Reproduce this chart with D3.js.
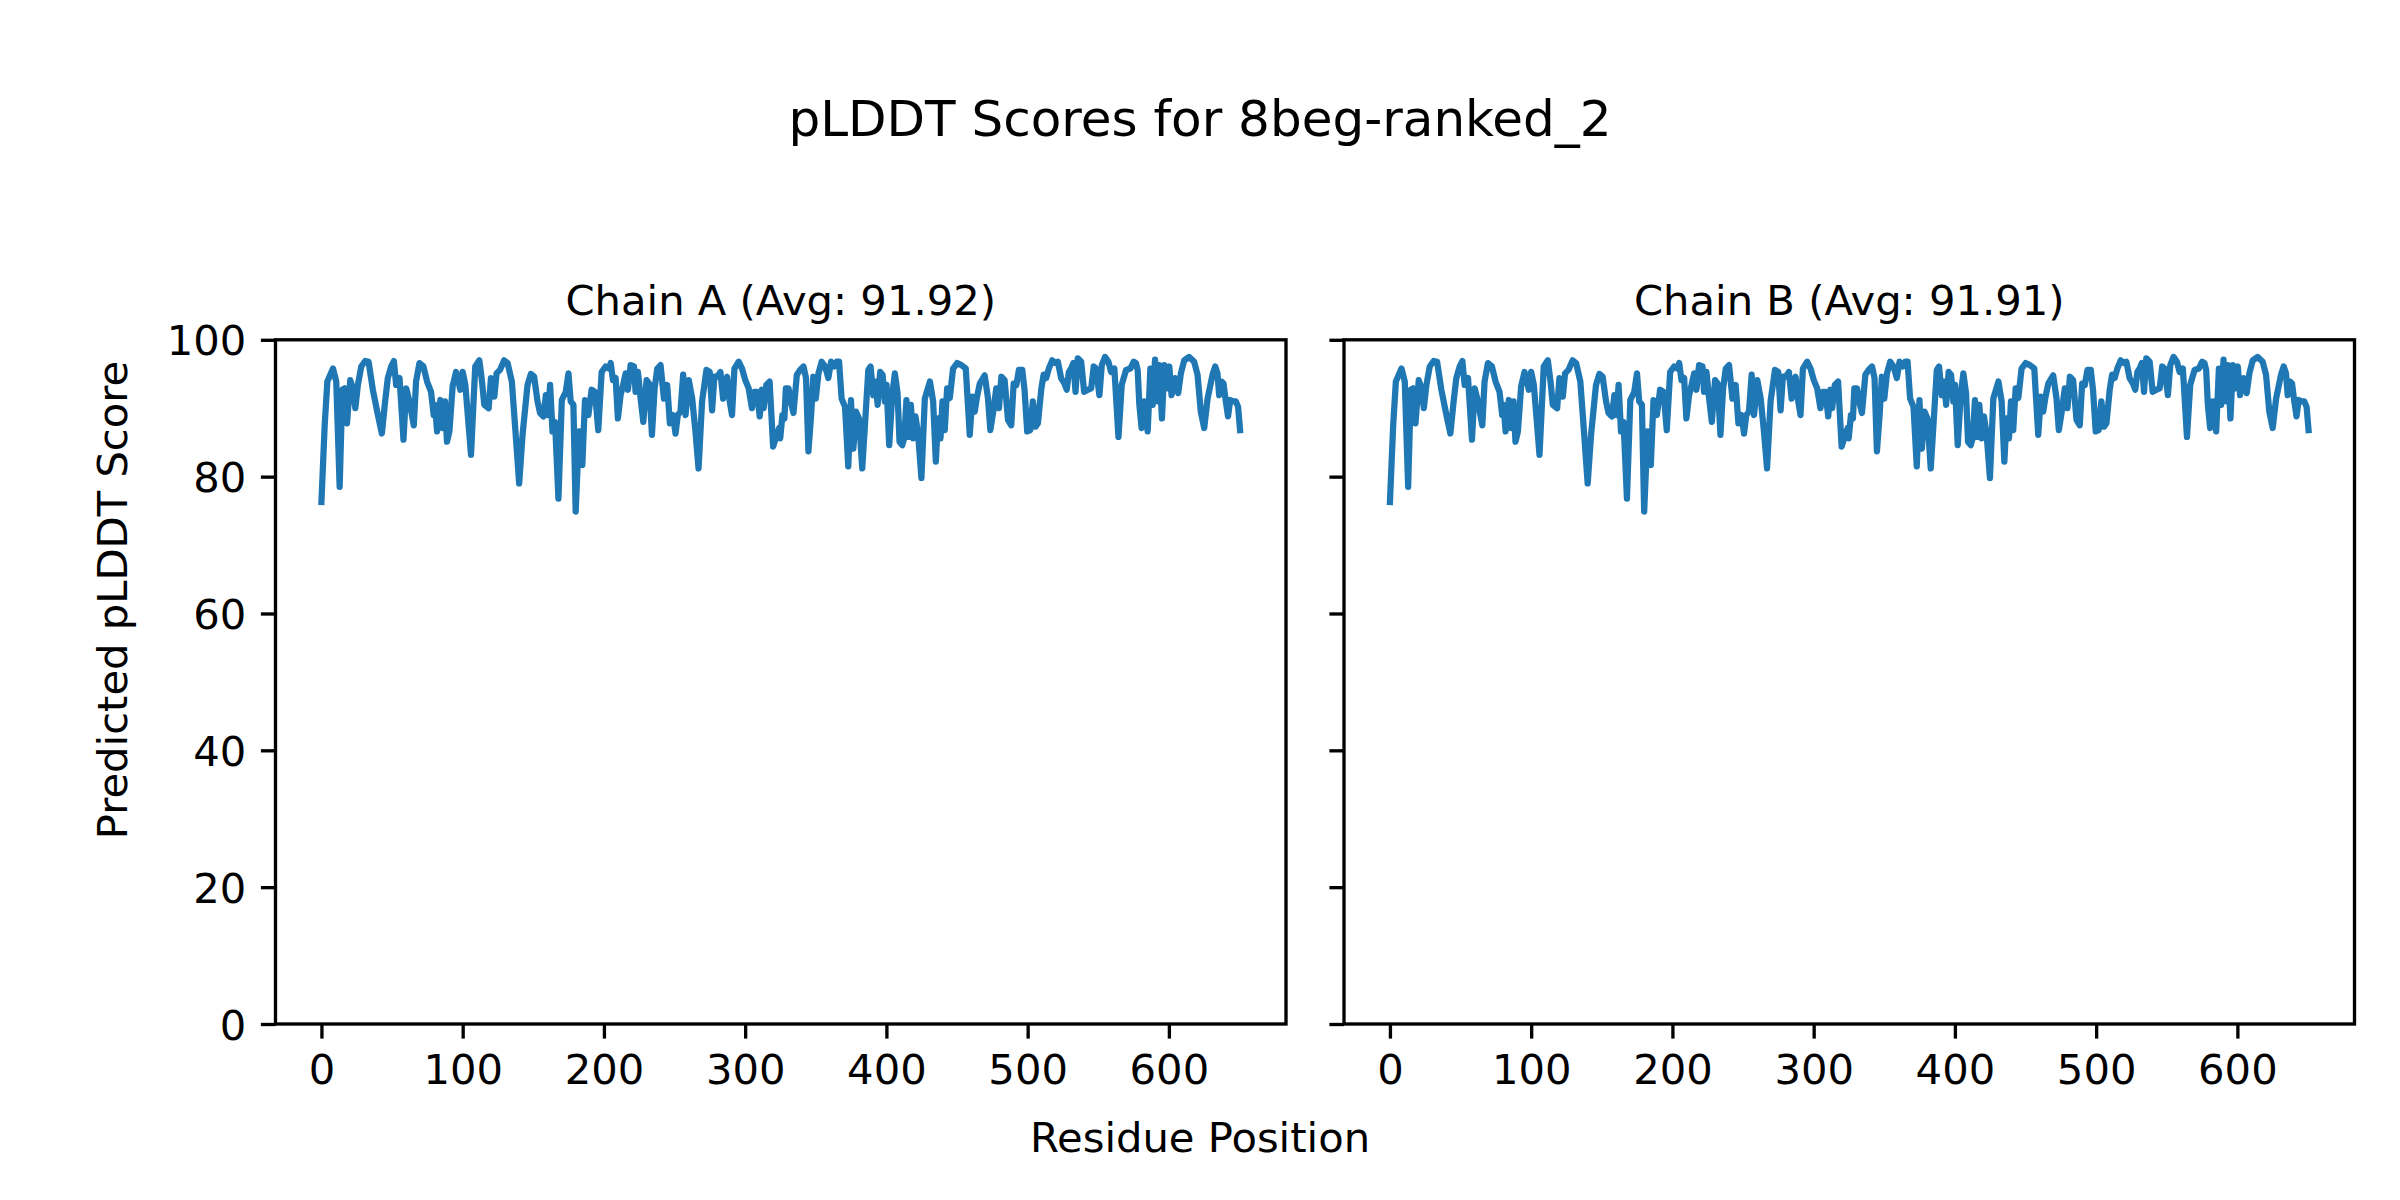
<!DOCTYPE html>
<html>
<head>
<meta charset="utf-8">
<script src="https://cdn.jsdelivr.net/npm/d3@7"></script>
<style>
    body { margin: 0; background: #fff; }
    text { font-family: 'DejaVu Sans', sans-serif; fill: #000; }
</style>
</head>
<body>
<div id="vis" style="width:2400px;height:1200px;"></div>
<script>
// residue positions / pLDDT values (peaks and troughs)
var residues = [0, 2.3, 4.2, 8.2, 10.5, 12.9, 14.8, 16.4, 18.1, 20.4, 22.3, 24.0, 25.8, 28.2, 31.0, 33.4, 36.4, 40.0, 42.8, 45.1, 47.0, 49.4, 51.3, 52.9, 55.3, 58.1, 60.0, 62.3, 65.4, 67.0, 69.4, 72.2, 74.8, 77.6, 79.5, 80.4, 81.9, 84.2, 85.9, 87.5, 88.9, 90.6, 92.9, 95.3, 96.5, 98.3,
    100.0, 101.9, 105.9, 108.9, 111.8, 113.7, 115.3, 118.4, 120.0, 122.4, 124.0, 126.4, 129.4, 131.8, 134.8, 137.2, 140.0, 142.4, 145.9, 148.3, 150.6, 153.0, 154.8, 157.2, 158.9, 160.5, 161.9, 163.6, 165.4, 167.8, 170.2, 173.0, 174.9, 176.5, 178.4, 180.0, 182.4, 184.7, 186.6, 189.0, 191.3, 193.7, 196.0, 198.4,
    201.2, 203.6, 204.8, 206.4, 208.3, 209.9, 211.8, 213.0, 215.4, 217.0, 218.9, 221.3, 222.4, 224.1, 226.0, 227.9, 230.2, 232.1, 234.0, 235.9, 237.8, 240.1, 242.5, 244.8, 246.7, 249.0, 250.7, 252.3, 254.2, 256.1, 257.8, 260.1, 262.5, 264.8, 267.0, 269.5, 272.6, 274.9, 276.6, 278.2, 280.1, 282.5, 284.4, 287.2, 289.1, 290.7, 292.4, 295.4, 297.8,
    300.1, 302.5, 304.8, 306.5, 308.4, 310.3, 311.9, 313.1, 315.0, 317.3, 319.8, 322.4, 324.1, 324.8, 326.4, 327.8, 328.8, 330.7, 332.6, 334.2, 336.6, 338.9, 341.3, 343.1, 344.8, 346.7, 348.3, 350.0, 351.9, 354.2, 356.6, 358.9, 360.8, 363.2, 364.8, 366.5, 368.3, 370.7, 373.0, 374.9, 376.6, 378.5, 380.6, 382.9, 384.8, 387.2, 388.8, 390.7, 392.3, 393.8, 395.6, 397.3, 398.9,
    400.1, 402.0, 404.1, 406.0, 407.9, 409.3, 411.2, 412.6, 414.2, 415.9, 417.3, 418.9, 420.6, 422.5, 424.8, 427.2, 430.8, 433.1, 435.0, 436.6, 438.3, 439.7, 441.3, 443.0, 444.9, 447.2, 450.1, 453.1, 456.2, 459.0, 460.9, 462.5, 464.2, 466.1, 469.6, 471.9, 473.6, 475.5, 477.8, 479.7, 481.4, 483.7, 486.1, 488.4, 490.1, 492.0, 493.8, 496.2, 497.8, 499.7,
    501.8, 503.7, 505.6, 507.3, 509.6, 511.3, 513.1, 515.0, 517.4, 519.7, 521.4, 523.7, 526.1, 527.7, 529.2, 530.8, 532.4, 533.9, 535.5, 537.9, 540.0, 542.6, 545.0, 546.8, 548.5, 550.8, 552.5, 554.8, 557.2, 559.1, 561.4, 564.3, 566.6, 569.7, 572.7, 575.1, 576.7, 577.9, 579.1, 580.7, 582.6, 585.0, 586.9, 588.5, 590.2, 592.0, 593.2, 595.1, 596.8, 598.6,
    600.3, 601.9, 604.3, 606.6, 608.5, 610.9, 614.4, 617.9, 620.3, 622.6, 625.0, 627.4, 629.2, 630.9, 632.8, 634.4, 635.6, 637.2, 638.7, 640.3, 641.9, 643.4, 645.7, 647.4, 649.0, 650.4];

var scores = [76.3, 87.5, 93.9, 95.8, 93.9, 78.5, 92.7, 92.9, 87.8, 94.1, 92.9, 90.0, 93.4, 96.1, 96.9, 96.8, 92.7, 89.0, 86.3, 91.0, 94.4, 96.1, 96.9, 93.4, 94.4, 85.4, 92.9, 91.0, 87.5, 93.9, 96.6, 96.1, 93.9, 92.4, 89.0, 90.5, 86.6, 91.2, 87.1, 91.0, 85.1, 86.6, 93.2, 95.3, 94.4, 92.7,
    95.3, 93.4, 83.2, 96.1, 97.0, 93.9, 90.5, 90.0, 94.4, 91.7, 95.1, 95.6, 97.0, 96.6, 93.9, 87.1, 79.0, 86.1, 93.4, 95.0, 94.6, 91.0, 89.3, 88.8, 91.9, 89.0, 93.4, 86.6, 88.0, 76.8, 91.2, 92.4, 95.1, 91.0, 90.5, 74.9, 86.6, 81.7, 91.2, 89.0, 92.7, 92.4, 86.8, 95.3,
    96.1, 95.8, 96.6, 94.1, 94.4, 88.5, 91.9, 92.9, 95.1, 92.7, 96.3, 96.1, 92.4, 95.3, 91.4, 88.0, 94.1, 93.6, 86.1, 92.9, 95.8, 96.3, 91.4, 93.4, 87.8, 89.0, 86.3, 89.0, 89.5, 94.9, 89.0, 94.1, 91.4, 86.6, 81.2, 91.0, 95.6, 95.3, 89.7, 94.6, 94.6, 95.3, 91.4, 94.6, 91.0, 89.0, 95.8, 96.8, 95.8,
    94.1, 92.9, 90.0, 92.4, 92.4, 88.8, 92.7, 90.0, 93.4, 93.9, 84.4, 86.1, 87.1, 85.6, 89.0, 88.5, 92.9, 92.9, 90.7, 89.3, 94.9, 95.6, 96.1, 94.4, 83.7, 89.0, 94.6, 91.4, 95.1, 96.8, 96.1, 94.4, 96.8, 96.1, 96.8, 96.8, 91.4, 90.2, 81.5, 91.2, 84.1, 89.5, 88.5, 81.2, 87.5, 95.6, 96.1, 91.9, 93.9, 90.5, 95.3, 94.9, 91.0,
    93.4, 84.6, 91.9, 95.1, 92.2, 85.1, 84.6, 85.6, 91.2, 85.8, 90.5, 85.6, 88.8, 86.1, 79.8, 91.4, 93.9, 91.0, 82.2, 88.5, 85.6, 91.0, 86.8, 92.9, 91.5, 95.8, 96.6, 96.3, 95.8, 86.1, 91.7, 89.5, 91.7, 93.6, 94.8, 91.5, 86.8, 89.3, 92.9, 90.0, 94.6, 94.1, 88.3, 87.5, 93.6, 93.4, 95.6, 95.6, 92.7, 86.6,
    86.8, 91.0, 87.3, 87.8, 92.7, 94.9, 94.4, 95.8, 97.0, 96.6, 96.8, 94.4, 93.6, 92.7, 95.3, 95.8, 96.6, 92.4, 97.3, 96.8, 92.4, 92.7, 92.9, 96.1, 95.8, 91.9, 96.3, 97.5, 96.8, 95.3, 95.8, 85.8, 93.4, 95.6, 95.8, 96.8, 96.6, 95.6, 90.5, 87.1, 91.0, 86.6, 95.8, 90.5, 97.1, 91.0, 96.3, 88.5, 96.3, 92.9,
    96.1, 91.9, 94.4, 92.2, 95.1, 97.0, 97.5, 96.8, 94.9, 89.5, 87.1, 91.4, 93.2, 94.9, 96.1, 95.1, 91.9, 93.9, 93.6, 91.0, 88.8, 91.2, 91.0, 91.0, 90.2, 86.8];

var chain_names = ['Chain A', 'Chain B'];
var chain_avgs = [91.92, 91.91];
// chain B is a copy of chain A in the reference, the two traces look identical
var chain_scores = [scores, scores];

var x_ticks = [0, 100, 200, 300, 400, 500, 600];
var y_ticks = [0, 20, 40, 60, 80, 100];

var width = 2400;
var height = 1200;

var svg = d3.select('#vis')
    .append('svg')
    .attr('width', width)
    .attr('height', height);

svg.append('rect')
    .attr('width', width)
    .attr('height', height)
    .attr('fill', '#fff');

// panel placement, px
var panel_left = [275.5, 1344];
var panel_w = 1010.5;
var panel_top = 339.8;
var panel_h = 684.2;

var tick_font = 41.7;
var tick_len = 14.6;
var lw = 3.33;

var ext = d3.extent(residues);
var pad = (ext[1] - ext[0]) * 0.05;

var x_scale = d3.scaleLinear()
    .domain([ext[0] - pad, ext[1] + pad])
    .range([0, panel_w]);

var y_scale = d3.scaleLinear()
    .domain([0, 100])
    .range([panel_h, 0]);

var line = d3.line()
    .x(function(d, i) { return x_scale(residues[i]); })
    .y(function(d) { return y_scale(d); });

chain_names.forEach(function(name, k) {
    var g = svg.append('g')
        .attr('transform', 'translate(' + panel_left[k] + ',' + panel_top + ')');

    g.append('path')
        .datum(chain_scores[k])
        .attr('d', line)
        .attr('fill', 'none')
        .attr('stroke', '#1f77b4')
        .attr('stroke-width', 6.25)
        .attr('stroke-linejoin', 'round')
        .attr('stroke-linecap', 'square');

    var x_axis = d3.axisBottom(x_scale)
        .tickValues(x_ticks)
        .tickSize(tick_len)
        .tickSizeOuter(0)
        .tickPadding(14.6);

    var y_axis = d3.axisLeft(y_scale)
        .tickValues(y_ticks)
        .tickSize(tick_len)
        .tickSizeOuter(0)
        .tickPadding(14.6);

    if (k > 0) y_axis.tickFormat('');

    var gx = g.append('g')
        .attr('transform', 'translate(0,' + panel_h + ')')
        .call(x_axis);
    var gy = g.append('g')
        .call(y_axis);

    [gx, gy].forEach(function(a) {
        a.select('.domain').remove();
        a.selectAll('line').attr('stroke', '#000').attr('stroke-width', lw);
        a.selectAll('text')
            .attr('font-family', "'DejaVu Sans', sans-serif")
            .attr('font-size', tick_font)
            .attr('fill', '#000');
    });
    gx.selectAll('text').attr('dy', '0.74em');
    gy.selectAll('text').attr('dy', '0.36em');

    // frame
    g.append('rect')
        .attr('width', panel_w)
        .attr('height', panel_h)
        .attr('fill', 'none')
        .attr('stroke', '#000')
        .attr('stroke-width', lw);

    g.append('text')
        .attr('x', panel_w / 2)
        .attr('y', -25)
        .attr('text-anchor', 'middle')
        .attr('font-size', 41.7)
        .text(name + ' (Avg: ' + chain_avgs[k].toFixed(2) + ')');
});

svg.append('text')
    .attr('x', 1200)
    .attr('y', 136)
    .attr('text-anchor', 'middle')
    .attr('font-size', 50)
    .text('pLDDT Scores for 8beg-ranked_2');

svg.append('text')
    .attr('x', 1200)
    .attr('y', 1152)
    .attr('text-anchor', 'middle')
    .attr('font-size', 41.7)
    .text('Residue Position');

svg.append('text')
    .attr('transform', 'translate(127,600) rotate(-90)')
    .attr('text-anchor', 'middle')
    .attr('font-size', 41.7)
    .text('Predicted pLDDT Score');
</script>
</body>
</html>
